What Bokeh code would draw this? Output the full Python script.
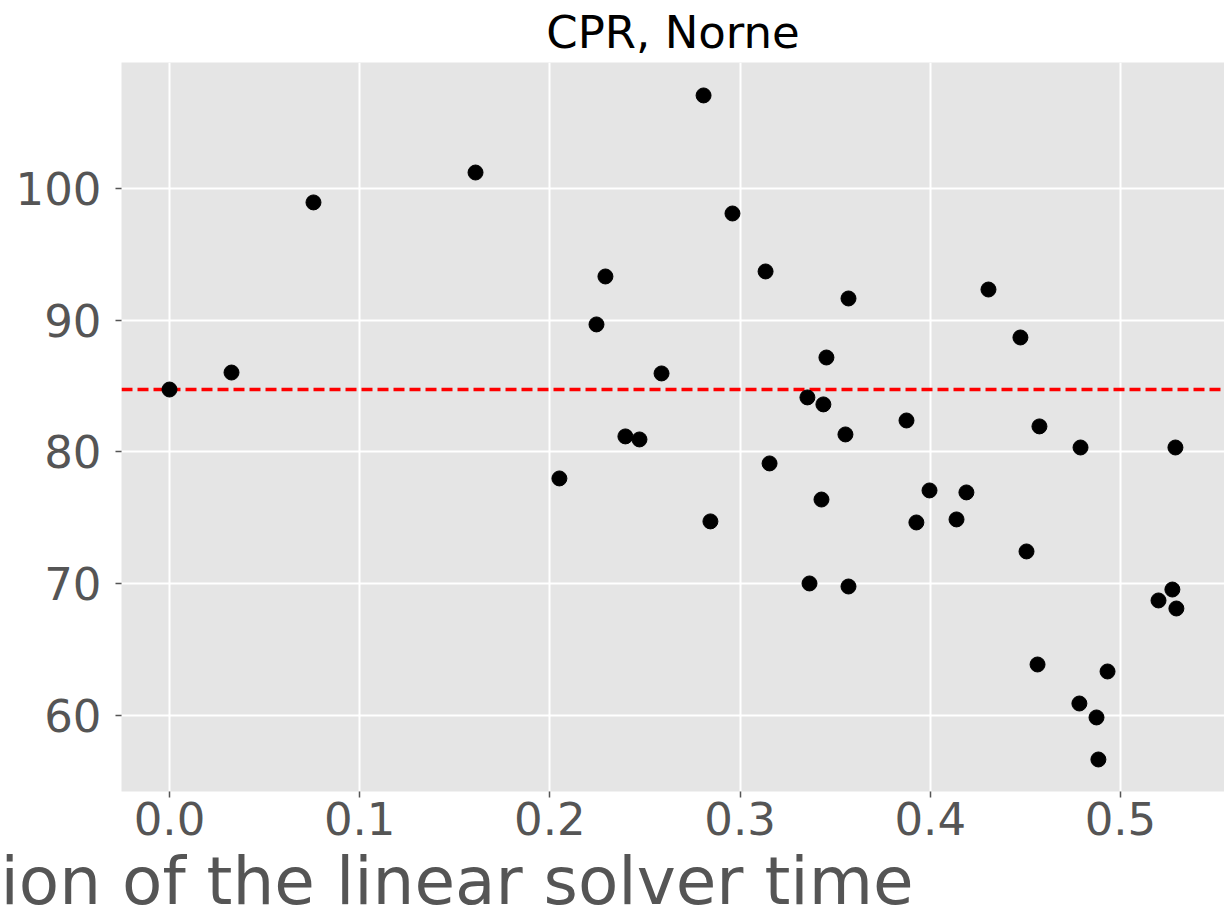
from bokeh.plotting import figure
from bokeh.models import Span, Title, FixedTicker, Range1d, ColumnDataSource
from bokeh.embed import file_html
from bokeh.resources import INLINE

# Data
frac_time = [0.0, 0.0326, 0.0757, 0.1609, 0.2050, 0.2245, 0.2292, 0.2397, 0.2471, 0.2587,
             0.2808, 0.2844, 0.2960, 0.3134, 0.3155, 0.3354, 0.3365, 0.3428, 0.3438, 0.3454,
             0.3554, 0.3570, 0.3570, 0.3875, 0.3927, 0.3996, 0.4138, 0.4190, 0.4306, 0.4474,
             0.4506, 0.4564, 0.4574, 0.4784, 0.4790, 0.4874, 0.4884, 0.4932, 0.5200, 0.5273,
             0.5289, 0.5294]
metric = [84.74, 86.03, 98.94, 101.21, 77.99, 89.68, 93.32, 81.18, 80.95, 85.96,
          107.06, 74.73, 98.10, 93.70, 79.13, 84.14, 70.02, 76.39, 83.61, 87.17,
          81.33, 91.65, 69.79, 82.39, 74.65, 77.08, 74.88, 76.93, 92.33, 88.69,
          72.45, 63.87, 81.94, 60.91, 80.34, 59.85, 56.66, 63.34, 68.73, 69.56,
          80.34, 68.12]
baseline = 84.74
x_ticks = [0.0, 0.1, 0.2, 0.3, 0.4, 0.5]
x_tick_labels = ["0.0", "0.1", "0.2", "0.3", "0.4", "0.5"]
y_ticks = [60, 70, 80, 90, 100]
y_tick_labels = ["60", "70", "80", "90", "100"]
title_text = "CPR, Norne"
xlabel_text = "ion of the linear solver time"

FONT = "DejaVu Sans"
GREY = "#555555"

p = figure(width=1224, height=924, output_backend="svg", toolbar_location=None,
           x_range=Range1d(-0.02524, 0.5547), y_range=Range1d(54.23, 109.56),
           min_border_left=121, min_border_right=0, min_border_top=62, min_border_bottom=133)

p.background_fill_color = "#E5E5E5"
p.border_fill_color = "white"
p.outline_line_color = None

p.title.text = title_text
p.title.text_font = FONT
p.title.text_font_size = "45px"
p.title.text_font_style = "normal"
p.title.text_color = "black"
p.title.align = "center"
p.title.standoff = 7

p.xgrid.grid_line_color = "white"
p.ygrid.grid_line_color = "white"
p.xgrid.grid_line_width = 2
p.ygrid.grid_line_width = 2

p.xaxis.ticker = FixedTicker(ticks=x_ticks)
p.yaxis.ticker = FixedTicker(ticks=y_ticks)
p.xaxis.major_label_overrides = dict(zip(x_ticks, x_tick_labels))
p.yaxis.major_label_overrides = dict(zip(y_ticks, y_tick_labels))

for ax in (p.xaxis, p.yaxis):
    ax.axis_line_color = None
    ax.minor_tick_line_color = None
    ax.major_tick_in = 0
    ax.major_tick_out = 6
    ax.major_tick_line_color = GREY
    ax.major_tick_line_width = 1.5
    ax.major_label_text_font = FONT
    ax.major_label_text_font_size = "45px"
    ax.major_label_text_color = GREY
p.yaxis.major_label_standoff = 14
p.xaxis.major_label_standoff = 4

span = Span(location=baseline, dimension="width", line_color="red",
            line_width=3.3, line_dash="11 5", level="underlay")
p.add_layout(span)

src = ColumnDataSource(dict(x=frac_time, y=metric))
p.scatter("x", "y", source=src, size=15, fill_color="black", line_color="black")

xl = Title(text=xlabel_text, text_font=FONT, text_font_size="66px", text_font_style="normal",
           text_color=GREY, align="left", offset=-121, standoff=7)
p.add_layout(xl, "below")

open("out.html", "w").write(file_html(p, INLINE))
